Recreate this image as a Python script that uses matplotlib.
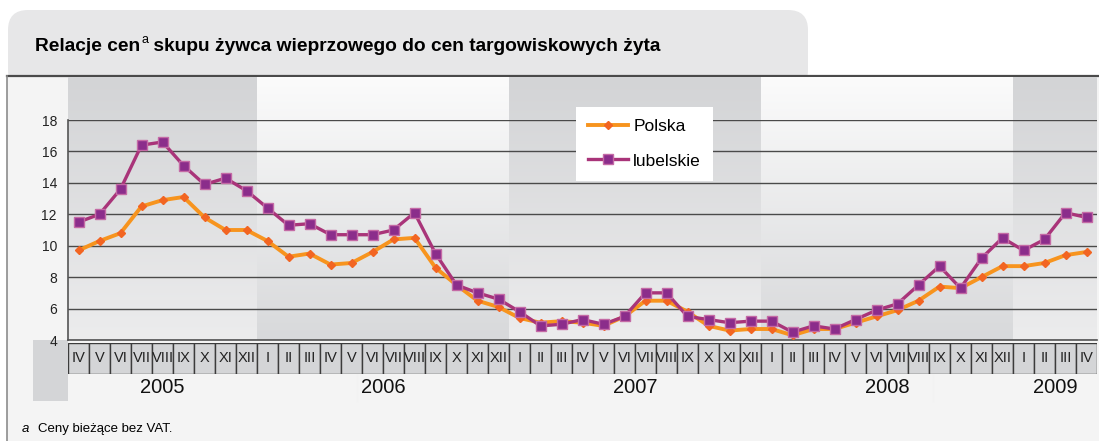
import numpy as np
import matplotlib
matplotlib.use('Agg')
import matplotlib.pyplot as plt
from matplotlib.patches import Rectangle, FancyBboxPatch
from matplotlib.colors import to_rgb

plt.rcParams['font.family'] = ['Liberation Sans', 'DejaVu Sans']

W, H = 1099, 441

# months IV 2005 .. IV 2009
roman = ['I', 'II', 'III', 'IV', 'V', 'VI', 'VII', 'VIII', 'IX', 'X', 'XI', 'XII']
months = roman[3:] + roman + roman + roman + roman[:4]
years = ['2005', '2006', '2007', '2008', '2009']
months_per_year = [9, 12, 12, 12, 4]

polska = [9.7, 10.3, 10.8, 12.5, 12.9, 13.1, 11.8, 11.0, 11.0,
          10.3, 9.3, 9.5, 8.8, 8.9, 9.6, 10.4, 10.5, 8.6, 7.5, 6.5, 6.1,
          5.4, 5.1, 5.2, 5.1, 4.9, 5.5, 6.5, 6.5, 5.8, 4.9, 4.6, 4.7,
          4.7, 4.3, 4.7, 4.7, 5.1, 5.5, 5.9, 6.5, 7.4, 7.3, 8.0, 8.7,
          8.7, 8.9, 9.4, 9.6]
lubelskie = [11.5, 12.0, 13.6, 16.4, 16.6, 15.1, 13.9, 14.3, 13.5,
             12.4, 11.3, 11.4, 10.7, 10.7, 10.7, 11.0, 12.1, 9.5, 7.5, 7.0, 6.6,
             5.8, 4.9, 5.0, 5.3, 5.0, 5.5, 7.0, 7.0, 5.5, 5.3, 5.1, 5.2,
             5.2, 4.5, 4.9, 4.7, 5.3, 5.9, 6.3, 7.5, 8.7, 7.3, 9.2, 10.5,
             9.7, 10.4, 12.1, 11.8]
yticks = [4, 6, 8, 10, 12, 14, 16, 18]

x = np.arange(len(months))
XLIM = (-0.5, len(months) - 0.5)

fig = plt.figure(figsize=(W / 100, H / 100), dpi=100)
fig.patch.set_facecolor('white')


def px_axes(x0, y0, x1, y1):
    return fig.add_axes([x0 / W, 1 - y1 / H, (x1 - x0) / W, (y1 - y0) / H])


def vgrad(ax, x0, x1, y0, y1, c_top, c_bot, n=64):
    """vertical colour gradient, y0 = top, y1 = bottom"""
    t = np.linspace(0, 1, n)[:, None]
    col = (1 - t) * np.array(to_rgb(c_top)) + t * np.array(to_rgb(c_bot))
    ax.imshow(col[:, None, :], extent=(x0, x1, y1, y0), aspect='auto',
              interpolation='bilinear', zorder=0)


# ---- background frame in pixel coordinates ----
base = fig.add_axes([0, 0, 1, 1])
base.axis('off')
base.set_xlim(0, W)
base.set_ylim(H, 0)
base.add_patch(FancyBboxPatch((8, 10), 800, 80, boxstyle='round,pad=0,rounding_size=20',
                              fc='#e7e7e8', ec='none'))
base.add_patch(Rectangle((7, 76), W - 7, H - 76, fc='#f4f4f4', ec='none'))
vgrad(base, 7, 33, 77, H, '#d3d4d6', '#f3f3f3')
vgrad(base, 33, 68, 79, 340, '#fcfcfc', '#d6d7d9')
base.add_patch(Rectangle((33, 340), 35, 61, fc='#d4d5d7', ec='none'))
vgrad(base, 68, 1097, 374, 401, '#f7f7f7', '#d6d7d9')
base.plot([7, W], [76, 76], color='#4a4a4a', lw=1.6)
base.plot([7, 7], [76, H], color='#8c8c8c', lw=1.2)
for sx in (357, 933):
    base.plot([sx, sx], [374, 401], color='#f2f2f2', lw=1)

# title with superscript
title = base.text(35, 51, 'Relacje cen', fontsize=13.8, fontweight='bold', va='baseline')
fig.canvas.draw()
r = fig.canvas.get_renderer()
bb = title.get_window_extent(r)
sup = base.text(bb.x1 + 1, 43, 'a', fontsize=9, va='baseline')
bb2 = sup.get_window_extent(r)
base.text(bb2.x1, 51, ' skupu żywca wieprzowego do cen targowiskowych żyta',
          fontsize=13.8, fontweight='bold', va='baseline')

# footnote
base.text(22, 432, 'a', fontsize=9.5, style='italic', va='baseline')
base.text(38, 432, 'Ceny bieżące bez VAT.', fontsize=9.5, va='baseline')
base.set_xlim(0, W)
base.set_ylim(H, 0)

# ---- year bands behind the plot ----
bg = px_axes(68, 77, 1097, 340)
bg.axis('off')
bg.set_xlim(XLIM)
bg.set_ylim(1, 0)
start = 0
for i, n in enumerate(months_per_year):
    if i % 2 == 0:
        vgrad(bg, start - 0.5, start + n - 0.5, 0, 1, '#d3d4d6', '#ececed')
    else:
        vgrad(bg, start - 0.5, start + n - 0.5, 0, 1, '#fbfbfb', '#d8d9db')
    start += n
bg.set_xlim(XLIM)
bg.set_ylim(1, 0)

# ---- month row ----
mrow = px_axes(68, 343, 1097, 374)
mrow.axis('off')
for i, m in enumerate(months):
    mrow.add_patch(Rectangle((i - 0.5, 0), 1, 1, fc='#d4d5d7', ec='#3c3c3c', lw=1.0))
    mrow.text(i, 0.5, m, ha='center', va='center', fontsize=10.5, color='#222222')
mrow.set_xlim(XLIM)
mrow.set_ylim(0, 1)

# ---- year row ----
yrow = px_axes(68, 374, 1097, 401)
yrow.axis('off')
start = 0
for yr, n in zip(years, months_per_year):
    yrow.text(start + (n - 1) / 2, 0.5, yr, ha='center', va='center', fontsize=14.5, color='#111111')
    start += n
yrow.set_xlim(XLIM)
yrow.set_ylim(0, 1)

# ---- main chart ----
ax = px_axes(68, 120, 1097, 340)
ax.set_facecolor('none')
ax.plot(x, polska, color='#F7941E', lw=2.8, marker='D', ms=4, mfc='#F26522', mec='#F26522',
        label='Polska', zorder=3)
ax.plot(x, lubelskie, color='#A93479', lw=2.4, marker='s', ms=6.5, mfc='#8B2D8B', mec='#C46AA5',
        mew=1.0, label='lubelskie', zorder=4)
ax.set_xlim(XLIM)
ax.set_ylim(4, 18)
ax.set_yticks(yticks)
ax.set_xticks([])
ax.yaxis.grid(True, color='#4a4a4a', lw=1.0)
ax.set_axisbelow(True)
for s in ('top', 'right'):
    ax.spines[s].set_visible(False)
for s in ('left', 'bottom'):
    ax.spines[s].set_color('#555555')
    ax.spines[s].set_linewidth(1.2)
ax.tick_params(axis='y', length=0, pad=8, labelsize=10, labelcolor='#222222')

ax.legend(loc='upper left', bbox_to_anchor=(576 / W, 1 - 107 / H), bbox_transform=fig.transFigure,
          fontsize=12.5, frameon=True, fancybox=False, framealpha=1, edgecolor='none',
          facecolor='white', handlelength=2.3, handletextpad=0.3, labelspacing=1.1,
          borderpad=0.7, borderaxespad=0)

fig.savefig('out.png', dpi=100, facecolor='white')
